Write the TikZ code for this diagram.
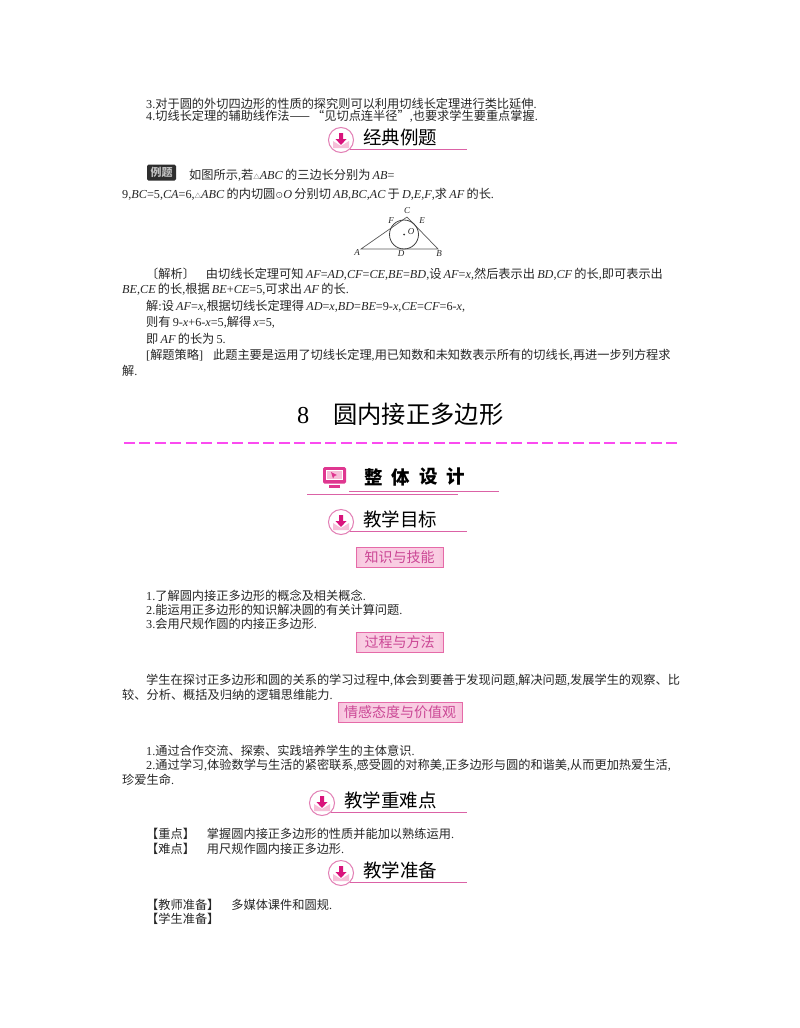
\documentclass[tikz,border=0pt]{standalone}
\usepackage{fontspec}
\setmainfont{Liberation Serif}
\newfontfamily\cjk{Noto Sans CJK SC}
\newcommand{\zh}[1]{{\cjk #1}}
\newcommand{\tri}{{\cjk\fontsize{6.5}{7}\selectfont △}}
\newcommand{\circdot}{{\cjk\fontsize{8}{8}\selectfont ⊙}}
\usetikzlibrary{positioning}
\definecolor{inkgray}{HTML}{262626}
\definecolor{rulepink}{HTML}{DB62A6}
\definecolor{ringpink}{HTML}{E27FB5}
\definecolor{arrowpink}{HTML}{D9147C}
\definecolor{envpink}{HTML}{F6BFD8}
\definecolor{boxedge}{HTML}{E56AA8}
\definecolor{boxdark}{HTML}{EE7FB6}
\definecolor{boxlight}{HTML}{F9CDE2}
\definecolor{boxtext}{HTML}{CB4795}
\definecolor{dashpink}{HTML}{FB4BF0}
\pgfdeclarehorizontalshading{boxshade}{100bp}{color(0bp)=(boxdark); color(10bp)=(boxdark); color(28bp)=(boxlight); color(72bp)=(boxlight); color(90bp)=(boxdark); color(100bp)=(boxdark)}
\tikzset{
  textline/.style={anchor=base west, inner sep=0pt, text=inkgray, font=\fontsize{12.2}{14}\selectfont, execute at begin node={\spaceskip 2.2pt\relax}},
  headtext/.style={anchor=west, inner sep=0pt, text=black, font=\cjk\fontsize{18.5}{20}\selectfont},
  headrule/.style={draw=rulepink, line width=1.1pt},
  ring/.style={circle, draw=ringpink, line width=1pt, fill=white, inner sep=0pt, minimum size=25pt},
  labelbox/.style={rectangle, draw=boxedge, line width=1pt, shading=boxshade,
    inner sep=0pt, minimum height=20pt, text=boxtext, font=\cjk\fontsize{14}{16}\selectfont},
  figlabel/.style={inner sep=0pt, text=black!85, font=\itshape\fontsize{9}{10}\selectfont},
  downicon/.pic={
    \fill[envpink] (-8,1) -- (0,6) -- (8,1) -- (8,8) -- (-8,8) -- cycle;
    \fill[arrowpink] (-2,-7) -- (2,-7) -- (2,-1) -- (5.5,-1) -- (0,5) -- (-5.5,-1) -- (-2,-1) -- cycle;
  },
}
\begin{document}
\begin{tikzpicture}[x=1pt,y=-1pt]
  \useasboundingbox (0,0) rectangle (800,1028);
  \fill[white] (0,0) rectangle (800,1028);

  % upper text
  \node[textline] (up3) at (146,108.5) {3.\zh{对于圆的外切四边形的性质的探究则可以利用切线长定理进行类比延伸}.};
  \node[textline] (up4) at (146,120.5) {4.\zh{切线长定理的辅助线作法—— “见切点连半径”},\zh{也要求学生要重点掌握}.};

  % section headings
  \foreach \nm/\cx/\cy/\ttl in {classic/341/140/经典例题, aims/341/522/教学目标, keys/322/803/教学重难点, prep/341/873/教学准备} {
    \node[ring] (ring\nm) at (\cx,\cy) {};
    \pic at (\cx,\cy) {downicon};
    \node[headtext] (head\nm) at ({\cx+22},{\cy-3}) {\ttl};
    \coordinate (end\nm) at (467,{\cy+9});
    \draw[headrule] (ring\nm.south east) -- (ring\nm.south east -| end\nm);
  }

  % worked example
  \node[rectangle, rounded corners=1.5pt, fill=black!82, inner sep=0pt, minimum width=29pt, minimum height=16pt,
    text=black!25, font=\cjk\bfseries\fontsize{11}{12}\selectfont] (badge) at (161.5,172.5) {例题};
  \node[textline] (ex1) at (189,179.5) {\zh{如图所示},\zh{若}\tri\textit{ABC} \zh{的三边长分别为} \textit{AB}=};
  \node[textline] (ex2) at (122,198.5) {9,\textit{BC}=5,\textit{CA}=6,\tri\textit{ABC} \zh{的内切圆}\circdot\textit{O} \zh{分别切} \textit{AB},\textit{BC},\textit{AC} \zh{于} \textit{D},\textit{E},\textit{F},\zh{求} \textit{AF} \zh{的长}.};

  % triangle with circle
  \coordinate (ptA) at (361,249);
  \coordinate (ptB) at (438,249);
  \coordinate (ptC) at (407,217);
  \coordinate (ptO) at (404,234.5);
  \draw[black!65, line width=0.7pt] (ptA) -- (ptB) -- (ptC) -- cycle;
  \draw[black!75, line width=0.8pt] (ptO) circle (14.5);
  \fill[black!80] (ptO) circle (1);
  \node[figlabel] (lbA) at (357,253) {A};
  \node[figlabel] (lbB) at (439,254) {B};
  \node[figlabel] (lbC) at (407,211) {C};
  \node[figlabel] (lbD) at (401,254) {D};
  \node[figlabel] (lbE) at (422,221) {E};
  \node[figlabel] (lbF) at (391,221) {F};
  \node[figlabel] (lbO) at (411,232) {O};

  % solution
  \node[textline] (sol1) at (146,278.5) {\zh{〔解析〕}\hspace{11pt}\zh{由切线长定理可知} \textit{AF}=\textit{AD},\textit{CF}=\textit{CE},\textit{BE}=\textit{BD},\zh{设} \textit{AF}=\textit{x},\zh{然后表示出} \textit{BD},\textit{CF} \zh{的长},\zh{即可表示出}};
  \node[textline] (sol2) at (122,293.5) {\textit{BE},\textit{CE} \zh{的长},\zh{根据} \textit{BE}+\textit{CE}=5,\zh{可求出} \textit{AF} \zh{的长}.};
  \node[textline] (sol3) at (146,310.5) {\zh{解}:\zh{设} \textit{AF}=\textit{x},\zh{根据切线长定理得} \textit{AD}=\textit{x},\textit{BD}=\textit{BE}=9-\textit{x},\textit{CE}=\textit{CF}=6-\textit{x},};
  \node[textline] (sol4) at (146,326.5) {\zh{则有} 9-\textit{x}+6-\textit{x}=5,\zh{解得} \textit{x}=5,};
  \node[textline] (sol5) at (146,343.5) {\zh{即} \textit{AF} \zh{的长为} 5.};
  \node[textline] (sol6) at (146,359.5) {[\zh{解题策略}]\hspace{10pt}\zh{此题主要是运用了切线长定理},\zh{用已知数和未知数表示所有的切线长},\zh{再进一步列方程求}};
  \node[textline] (sol7) at (122,375.5) {\zh{解}.};

  % lesson title
  \node[inner sep=0pt, anchor=base west, text=black, font=\fontsize{24.3}{26}\selectfont] (title) at (297,423) {8\hspace{24pt}\zh{圆内接正多边形}};
  \coordinate (dashL) at (124,443);
  \coordinate (dashR) at (677,443);
  \draw[dashpink, line width=1.2pt, dash pattern=on 11pt off 4.49pt] (dashL) -- (dashR);

  % overall design heading
  \fill[arrowpink!85, rounded corners=1.5pt] (323,467) rectangle (346,483.5);
  \fill[white] (326,470) rectangle (343,479.5);
  \fill[envpink] (327,471) rectangle (342,479);
  \fill[arrowpink!85] (331,472) -- (337,475) -- (334.5,476) -- (333,478.5) -- cycle;
  \fill[arrowpink!85] (329,485) rectangle (340,488);
  \foreach \nm/\px/\ch in {a/364/整, b/391.5/体, c/419/设, d/446.5/计} {
    \node[headtext, font=\cjk\bfseries\fontsize{18.5}{20}\selectfont] (design\nm) at (\px,477) {\ch};
  }
  \coordinate (designU) at (349,491);
  \coordinate (designV) at (499,491);
  \coordinate (designW) at (307,494);
  \coordinate (designX) at (458,494);
  \draw[headrule, line width=1pt] (designU) -- (designV);
  \draw[headrule, line width=1pt] (designW) -- (designX);

  % aims
  \node[labelbox, minimum width=87pt] (skills) at (399.5,557) {知识与技能};
  \node[textline] (aim1) at (146,600.5) {1.\zh{了解圆内接正多边形的概念及相关概念}.};
  \node[textline] (aim2) at (146,614.5) {2.\zh{能运用正多边形的知识解决圆的有关计算问题}.};
  \node[textline] (aim3) at (146,628.5) {3.\zh{会用尺规作圆的内接正多边形}.};
  \node[labelbox, minimum width=87pt] (process) at (399.5,642) {过程与方法};
  \node[textline] (pro1) at (146,684.5) {\zh{学生在探讨正多边形和圆的关系的学习过程中},\zh{体会到要善于发现问题},\zh{解决问题},\zh{发展学生的观察、比}};
  \node[textline] (pro2) at (122,699.5) {\zh{较、分析、概括及归纳的逻辑思维能力}.};
  \node[labelbox, minimum width=124pt] (values) at (400,712) {情感态度与价值观};
  \node[textline] (val1) at (146,755.5) {1.\zh{通过合作交流、探索、实践培养学生的主体意识}.};
  \node[textline] (val2) at (146,769.5) {2.\zh{通过学习},\zh{体验数学与生活的紧密联系},\zh{感受圆的对称美},\zh{正多边形与圆的和谐美},\zh{从而更加热爱生活},};
  \node[textline] (val3) at (122,784.5) {\zh{珍爱生命}.};

  % key points and preparation
  \node[textline] (key1) at (146,838.5) {\zh{【重点】}\hspace{12pt}\zh{掌握圆内接正多边形的性质并能加以熟练运用}.};
  \node[textline] (key2) at (146,853.5) {\zh{【难点】}\hspace{12pt}\zh{用尺规作圆内接正多边形}.};
  \node[textline] (pre1) at (146,909.5) {\zh{【教师准备】}\hspace{12pt}\zh{多媒体课件和圆规}.};
  \node[textline] (pre2) at (146,923.5) {\zh{【学生准备】}};
\end{tikzpicture}
\end{document}
